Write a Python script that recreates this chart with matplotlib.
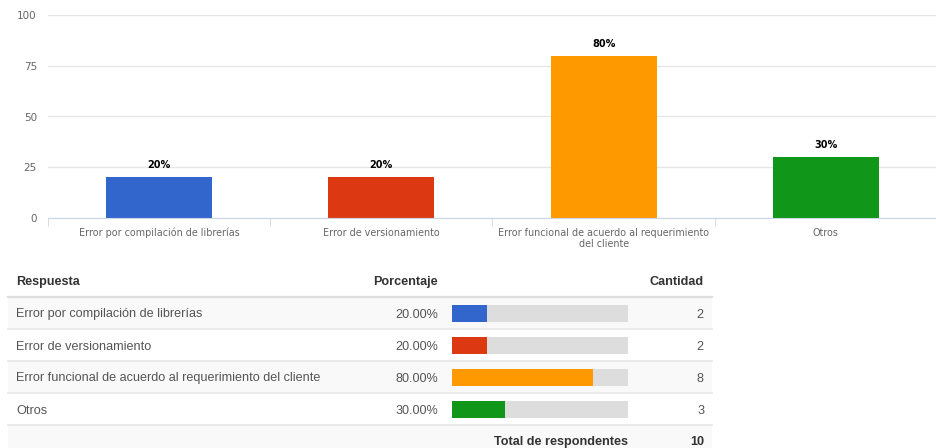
import matplotlib.pyplot as plt
from matplotlib.patches import Rectangle

# data
categories = ["Error por compilación de librerías", "Error de versionamiento",
              "Error funcional de acuerdo al requerimiento del cliente", "Otros"]
axis_labels = ["Error por compilación de librerías", "Error de versionamiento",
               "Error funcional de acuerdo al requerimiento\ndel cliente", "Otros"]
percentages = [20, 20, 80, 30]
counts = [2, 2, 8, 3]
total_respondents = 10
colors = ["#3366cc", "#dc3912", "#ff9900", "#109618"]
y_ticks = [0, 25, 50, 75, 100]

W, H = 937, 448
fig = plt.figure(figsize=(W / 100, H / 100), dpi=100)

# ---- column chart ----
# plot area starts at x=48 px, each category is ~224.5 px wide (last one runs off the edge)
ax = fig.add_axes([48 / W, (H - 218) / H, (W - 48) / W, 203 / H])
x = list(range(len(categories)))
bars = ax.bar(x, percentages, width=0.477, color=colors, zorder=2)
for b, p in zip(bars, percentages):
    ax.annotate(f"{p}%", (b.get_x() + b.get_width() / 2, b.get_height()),
                xytext=(0, 5), textcoords="offset points", ha="center", va="bottom",
                fontsize=7, fontweight="bold", color="#000000")
ax.set_xlim(-0.5, -0.5 + (W - 48) / 224.5)
ax.set_ylim(0, 100)
ax.set_yticks(y_ticks)
ax.set_yticklabels([str(v) for v in y_ticks])
ax.grid(axis="y", color="#e6e6e6", linewidth=1, zorder=0)
ax.set_axisbelow(True)
for s in ["top", "right", "left"]:
    ax.spines[s].set_visible(False)
ax.spines["bottom"].set_color("#ccd6eb")
ax.tick_params(axis="y", length=0, pad=8, labelsize=7.5, labelcolor="#666666")
ax.set_xticks(x)
ax.set_xticklabels(axis_labels, fontsize=6.9, color="#666666", linespacing=1.15)
ax.set_xticks([i - 0.5 for i in range(len(categories) + 1)], minor=True)
ax.tick_params(axis="x", which="major", length=0, pad=7)
ax.tick_params(axis="x", which="minor", length=6, color="#ccd6eb", direction="out")
ax.set_facecolor("none")

# ---- summary table ----
axt = fig.add_axes([0, 0, 1, 1], zorder=0)
axt.set_xlim(0, W)
axt.set_ylim(H, 0)
axt.axis("off")

left, right = 8, 712
row_top = 297
row_h = 32
font = "Liberation Sans"
fs = 9.1

axt.text(16, 282, "Respuesta", fontfamily=font, fontsize=fs, fontweight="bold",
         color="#333333", va="center", ha="left")
axt.text(438, 282, "Porcentaje", fontfamily=font, fontsize=fs, fontweight="bold",
         color="#333333", va="center", ha="right")
axt.text(704, 282, "Cantidad", fontfamily=font, fontsize=fs, fontweight="bold",
         color="#333333", va="center", ha="right")

for i, (c, p, n) in enumerate(zip(categories, percentages, counts)):
    top = row_top + i * row_h
    bg = "#f9f9f9" if i % 2 == 0 else "#ffffff"
    axt.add_patch(Rectangle((left, top), right - left, row_h, color=bg, lw=0))
    yc = top + row_h / 2 + 1.5
    axt.text(16, yc, c, fontfamily=font, fontsize=fs, color="#555555", va="center")
    axt.text(438, yc, f"{p:.2f}%", fontfamily=font, fontsize=fs, color="#555555",
             va="center", ha="right")
    axt.text(704, yc, str(n), fontfamily=font, fontsize=fs, color="#555555",
             va="center", ha="right")

foot_top = row_top + len(categories) * row_h
axt.add_patch(Rectangle((left, foot_top), right - left, H - foot_top, color="#f9f9f9", lw=0))
for k in range(len(categories) + 1):
    yl = row_top + k * row_h
    axt.plot([left, right], [yl, yl], color="#dddddd" if k == 0 else "#e6e6e6",
             lw=1.6 if k == 0 else 1.2)
axt.text(628, foot_top + 17, "Total de respondentes", fontfamily=font, fontsize=fs,
         fontweight="bold", color="#333333", va="center", ha="right")
axt.text(704, foot_top + 17, str(total_respondents), fontfamily=font, fontsize=fs,
         fontweight="bold", color="#333333", va="center", ha="right")

# mini bars in the table
axb = fig.add_axes([452 / W, (H - (row_top + len(categories) * row_h)) / H,
                    (628 - 452) / W, len(categories) * row_h / H], zorder=1)
axb.set_facecolor("none")
rows = list(range(len(categories)))
axb.barh(rows, [100] * len(rows), height=17 / 32, color="#dddddd")
axb.barh(rows, percentages, height=17 / 32, color=colors)
axb.set_xlim(0, 100)
axb.set_ylim(len(categories) - 0.5, -0.5)
axb.axis("off")

fig.savefig("out.png", dpi=100)
